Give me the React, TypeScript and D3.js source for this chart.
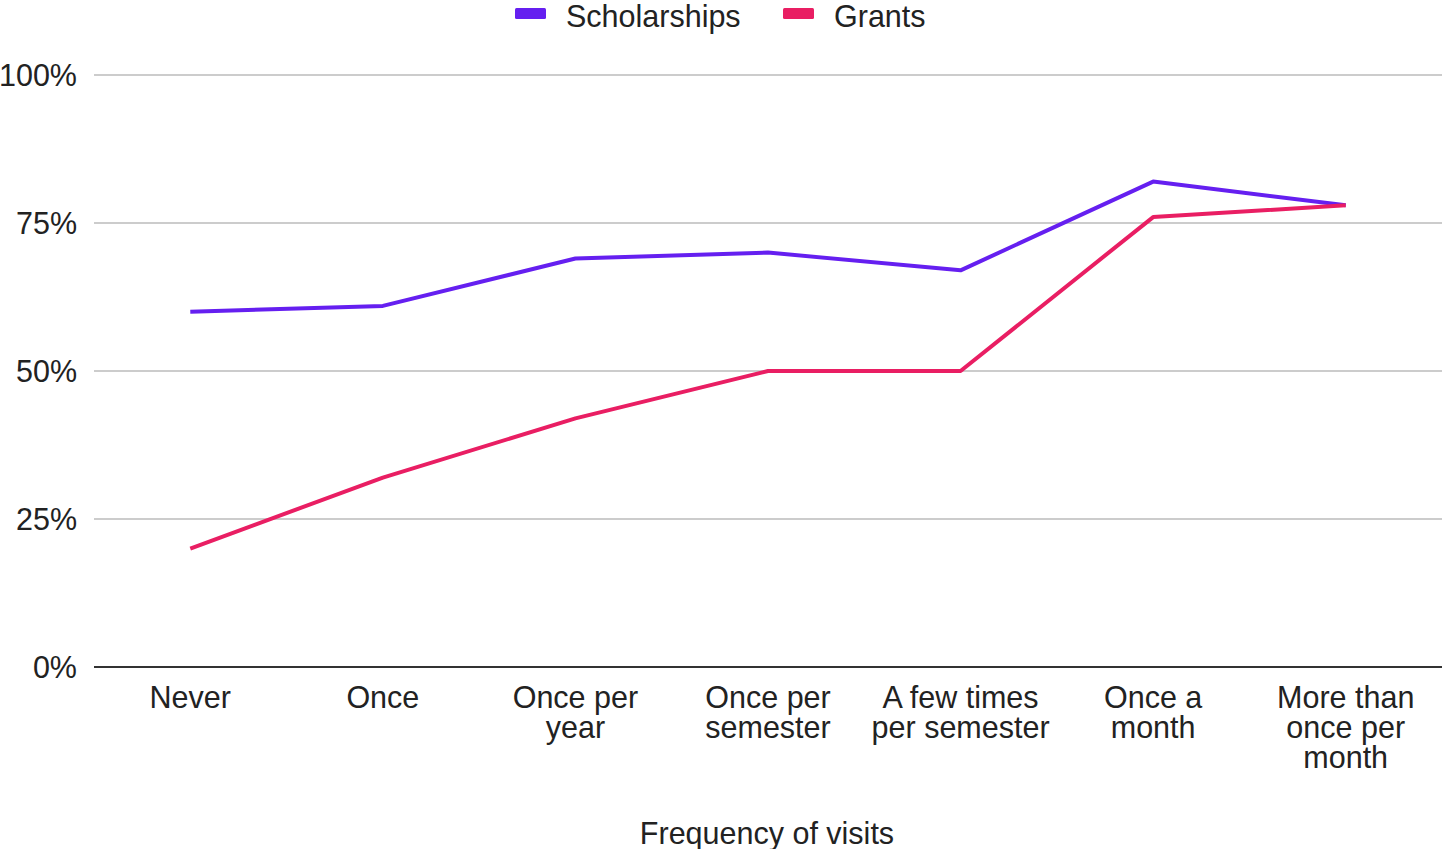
import React, { useEffect, useRef } from 'react';
import * as d3 from 'd3';

const categories: string[][] = [
  ['Never'],
  ['Once'],
  ['Once per', 'year'],
  ['Once per', 'semester'],
  ['A few times', 'per semester'],
  ['Once a', 'month'],
  ['More than', 'once per', 'month'],
];
const scholarships = [60, 61, 69, 70, 67, 82, 78];
const grants = [20, 32, 42, 50, 50, 76, 78];
const yTicks = [0, 25, 50, 75, 100];
const seriesNames = ['Scholarships', 'Grants'];
const seriesColors = ['#651ff0', '#e91e63'];

const App: React.FC = () => {
  const ref = useRef<SVGSVGElement>(null);
  const width = 1442;
  const height = 849;

  useEffect(() => {
    const svg = d3.select(ref.current);
    svg.selectAll('*').remove();

    const font = '"Liberation Sans", Arial, sans-serif';
    const fs = 30.5;
    const left = 94;
    const right = 1442;
    const top = 75;
    const bottom = 667;

    const idx = categories.map((_, i) => String(i));
    const x = d3.scalePoint<string>().domain(idx).range([left, right]).padding(0.5);
    const y = d3.scaleLinear().domain([0, 100]).range([bottom, top]);

    // gridlines
    svg.append('g')
      .selectAll('line')
      .data(yTicks.filter(t => t > 0))
      .join('line')
      .attr('x1', left)
      .attr('x2', right)
      .attr('y1', d => y(d))
      .attr('y2', d => y(d))
      .attr('stroke', '#cccccc')
      .attr('stroke-width', 2);

    // baseline
    svg.append('line')
      .attr('x1', left)
      .attr('x2', right)
      .attr('y1', y(0))
      .attr('y2', y(0))
      .attr('stroke', '#333333')
      .attr('stroke-width', 2);

    // y labels
    svg.append('g')
      .selectAll('text')
      .data(yTicks)
      .join('text')
      .attr('x', 77)
      .attr('y', d => y(d))
      .attr('dy', '0.36em')
      .attr('text-anchor', 'end')
      .attr('font-family', font)
      .attr('font-size', fs)
      .attr('fill', '#222')
      .text(d => `${d}%`);

    // x labels
    const xl = svg.append('g')
      .selectAll('text')
      .data(categories)
      .join('text')
      .attr('text-anchor', 'middle')
      .attr('font-family', font)
      .attr('font-size', fs)
      .attr('fill', '#222');
    xl.each(function (d, i) {
      const t = d3.select(this);
      d.forEach((line, j) => {
        t.append('tspan')
          .attr('x', x(String(i)) as number)
          .attr('y', 697 + j * 30)
          .attr('dy', '0.36em')
          .text(line);
      });
    });

    // axis title
    svg.append('text')
      .attr('x', 767)
      .attr('y', 833)
      .attr('dy', '0.36em')
      .attr('text-anchor', 'middle')
      .attr('font-family', font)
      .attr('font-size', fs)
      .attr('fill', '#222')
      .text('Frequency of visits');

    // lines
    const line = d3.line<number>()
      .x((_, i) => x(String(i)) as number)
      .y(d => y(d));

    [scholarships, grants].forEach((data, k) => {
      svg.append('path')
        .datum(data)
        .attr('fill', 'none')
        .attr('stroke', seriesColors[k])
        .attr('stroke-width', 4)
        .attr('stroke-linejoin', 'round')
        .attr('d', line);
    });

    // legend
    const legendX = [515, 783];
    seriesNames.forEach((name, k) => {
      svg.append('rect')
        .attr('x', legendX[k])
        .attr('y', 8)
        .attr('width', 31)
        .attr('height', 11)
        .attr('rx', 1.5)
        .attr('fill', seriesColors[k]);
      svg.append('text')
        .attr('x', legendX[k] + 51)
        .attr('y', 16)
        .attr('dy', '0.36em')
        .attr('font-family', font)
        .attr('font-size', fs)
        .attr('fill', '#222')
        .text(name);
    });
  }, []);

  return (
    <svg
      ref={ref}
      width={width}
      height={height}
      style={{ position: 'absolute', left: 0, top: 0, background: '#fff' }}
    />
  );
};

export default App;
